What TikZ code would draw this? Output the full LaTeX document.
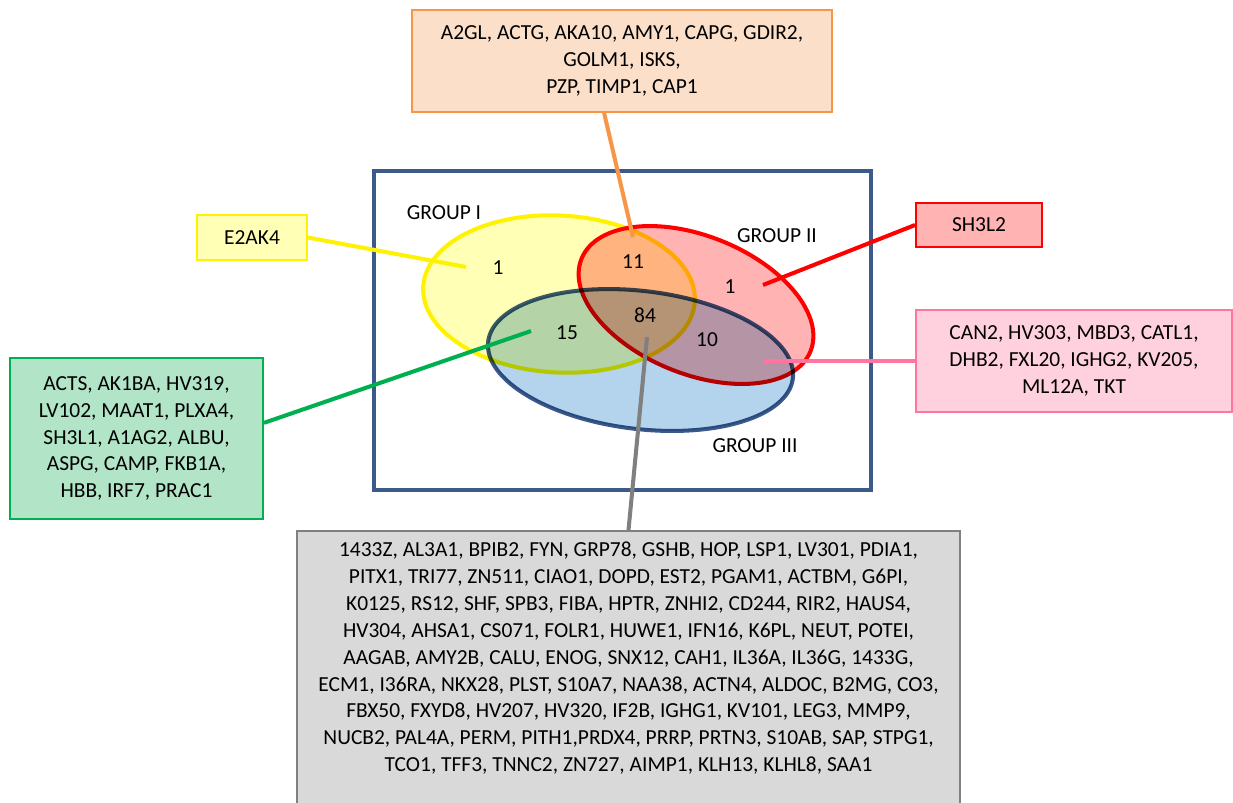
\documentclass[tikz,border=0pt]{standalone}
\usepackage{fontspec}
\setmainfont{Carlito}
\usepackage{tikz}
\usetikzlibrary{shapes}

\definecolor{frameblue}{HTML}{3B5A8A}
\definecolor{lineorange}{HTML}{F79646}
\definecolor{fillorange}{HTML}{FBDFC8}
\definecolor{linegreen}{HTML}{00B050}
\definecolor{fillgreen}{HTML}{B2E5C7}
\definecolor{linepink}{HTML}{FF75A0}
\definecolor{fillpink}{HTML}{FFD1DF}
\definecolor{linegray}{HTML}{808080}
\definecolor{fillgray}{HTML}{D9D9D9}
\definecolor{fillyellow}{HTML}{FFFFB5}
\definecolor{fillred}{HTML}{FFB3B3}
\definecolor{fillblue}{HTML}{B4D3EC}

\begin{document}
\begin{tikzpicture}[x=0.02cm, y=-0.02cm,
  every node/.style={font=\fontsize{12.2}{15.3}\selectfont, align=center},
  genebox/.style={draw=#1, line width=1.1pt, inner sep=0pt},
  link/.style={draw=#1, line width=2.3pt},
  venn/.style={line width=2.3pt}]
\useasboundingbox (0,0) rectangle (1233,802);
\clip (0,0) rectangle (1233,802);

\draw[frameblue, line width=2.3pt] (374,171) rectangle (871,490);

\begin{scope}[blend mode=multiply]
\draw[venn, draw=yellow, fill=fillyellow, shift={(559,294)}, rotate=-3] (0,0) ellipse [x radius=2.72cm, y radius=1.57cm];
\draw[venn, draw=red, fill=fillred, shift={(696,305)}, rotate=-22] (0,0) ellipse [x radius=2.47cm, y radius=1.38cm];
\draw[venn, draw=frameblue, fill=fillblue, shift={(640.5,360)}, rotate=-6.9] (0,0) ellipse [x radius=3.07cm, y radius=1.38cm];
\end{scope}

\node (grpI) at (444,213) {GROUP I};
\node (grpII) at (777,236) {GROUP II};
\node (grpIII) at (755,446) {GROUP III};
\node (onlyI) at (498,268) {1};
\node (onlyII) at (730,287) {1};
\node (I_II) at (633,262) {11};
\node (I_III) at (567,333) {15};
\node (II_III) at (707,340) {10};
\node (all) at (645,315) {84};

\coordinate (inI) at (466,267);
\coordinate (inII) at (763,285);
\coordinate (inI_II) at (633,237);
\coordinate (inI_III) at (531,331);
\coordinate (inII_III) at (763,361);
\coordinate (inall) at (647,337);

\node[genebox=lineorange, fill=fillorange, minimum width=8.4cm, minimum height=2.04cm] (topbox) at (622,61)
  {A2GL, ACTG, AKA10, AMY1, CAPG, GDIR2,\\ GOLM1, ISKS,\\ PZP, TIMP1, CAP1};
\node[genebox=yellow, fill=fillyellow, minimum width=2.2cm, minimum height=0.9cm] (e2ak4) at (252,237.5) {E2AK4};
\node[genebox=red, fill=fillred, minimum width=2.52cm, minimum height=0.88cm] (sh3l2) at (979,225) {SH3L2};
\node[genebox=linegreen, fill=fillgreen, minimum width=5.06cm, minimum height=3.22cm] (greenbox) at (136.5,438.5)
  {ACTS, AK1BA, HV319,\\ LV102, MAAT1, PLXA4,\\ SH3L1, A1AG2, ALBU,\\ ASPG, CAMP, FKB1A,\\ HBB, IRF7, PRAC1};
\node[genebox=linepink, fill=fillpink, minimum width=6.32cm, minimum height=2.04cm] (pinkbox) at (1074,361)
  {CAN2, HV303, MBD3, CATL1,\\ DHB2, FXL20, IGHG2, KV205,\\ ML12A, TKT};
\node[genebox=linegray, fill=fillgray, minimum width=13.26cm, inner ysep=0.22cm, anchor=north] (graybox) at (628.5,530)
  {1433Z, AL3A1, BPIB2, FYN, GRP78, GSHB, HOP, LSP1, LV301, PDIA1,\\
   PITX1, TRI77, ZN511, CIAO1, DOPD, EST2, PGAM1, ACTBM, G6PI,\\
   K0125, RS12, SHF, SPB3, FIBA, HPTR, ZNHI2, CD244, RIR2, HAUS4,\\
   HV304, AHSA1, CS071, FOLR1, HUWE1, IFN16, K6PL, NEUT, POTEI,\\
   AAGAB, AMY2B, CALU, ENOG, SNX12, CAH1, IL36A, IL36G, 1433G,\\
   ECM1, I36RA, NKX28, PLST, S10A7, NAA38, ACTN4, ALDOC, B2MG, CO3,\\
   FBX50, FXYD8, HV207, HV320, IF2B, IGHG1, KV101, LEG3, MMP9,\\
   NUCB2, PAL4A, PERM, PITH1,PRDX4, PRRP, PRTN3, S10AB, SAP, STPG1,\\
   TCO1, TFF3, TNNC2, ZN727, AIMP1, KLH13, KLHL8, SAA1\\
   \rule{0pt}{2cm}};

\draw[link=lineorange] (topbox.-109) -- (inI_II);
\draw[link=yellow] (e2ak4.east) -- (inI);
\draw[link=red] (sh3l2.west) -- (inII);
\draw[link=linegreen] (greenbox.7) -- (inI_III);
\draw[link=linepink] (pinkbox.west) -- (inII_III);
\draw[link=linegray] (graybox.north) -- (inall);
\end{tikzpicture}
\end{document}
